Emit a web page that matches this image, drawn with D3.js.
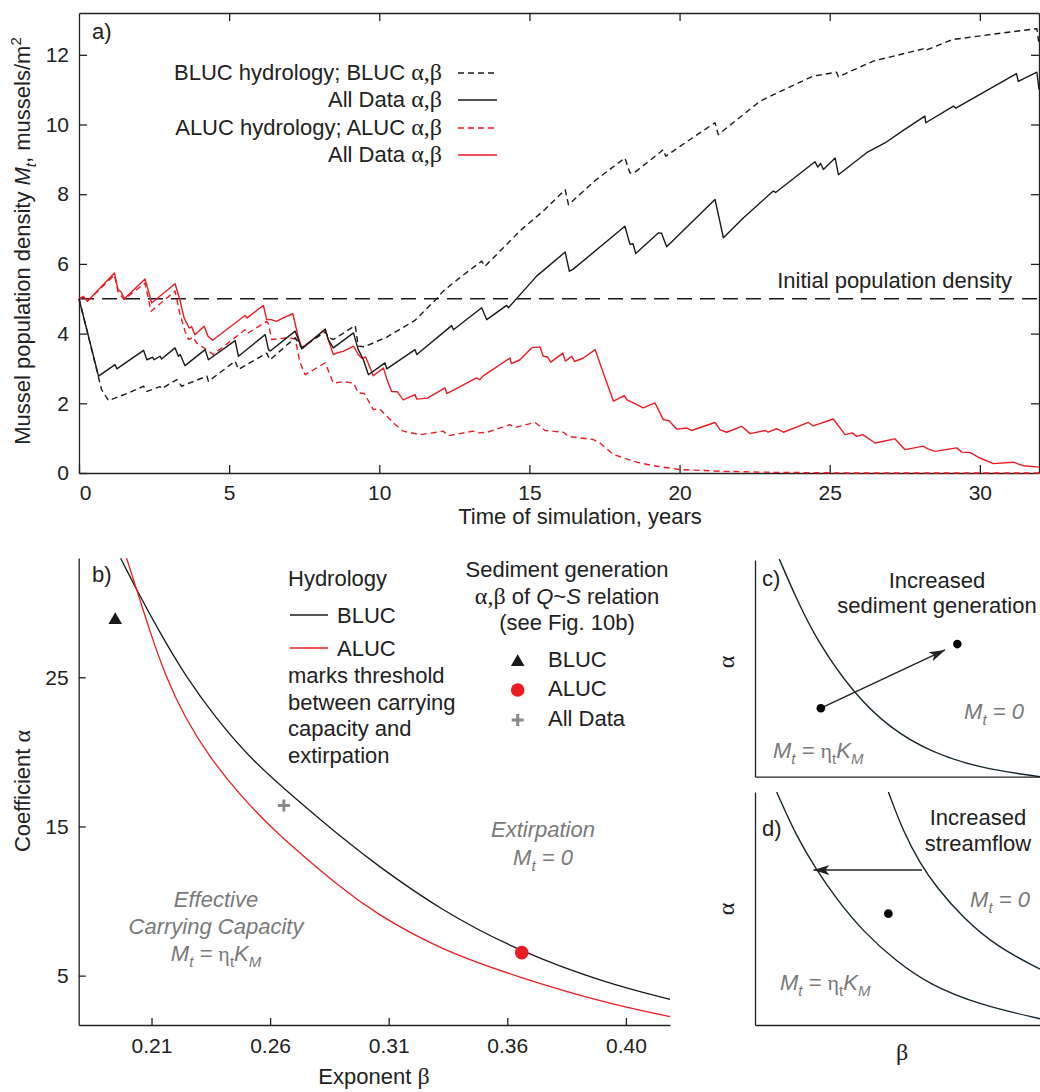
<!DOCTYPE html>
<html>
<head>
<meta charset="utf-8">
<script src="https://cdnjs.cloudflare.com/ajax/libs/d3/7.8.5/d3.min.js"></script>
<style>
    body { margin: 0; background: #fff; }
    svg { font-family: "Liberation Sans", Arial, sans-serif; fill: #222; }
    .greek { font-family: "Liberation Serif", "DejaVu Serif", serif; }
    .axis text { font-size: 21px; fill: #222; font-family: "Liberation Sans", Arial, sans-serif; }
    .axis path, .axis line { stroke: #222; stroke-width: 1.3; }
    .note { fill: #7a7a7a; font-style: italic; }
</style>
</head>
<body>
<div id="vis"></div>
<script>

// ---- panel a: population density over time ----
var timeTicks = [0, 5, 10, 15, 20, 25, 30];
var densityTicks = [0, 2, 4, 6, 8, 10, 12];
var initialDensity = 5;

// BLUC hydrology; BLUC alpha,beta  (black dashed)
var blucBluc = [[0,5.0],[0.26,4.11],[0.62,2.85],[0.75,2.4],[0.98,2.08],[1.6,2.28],[2.15,2.49],[2.26,2.34],
    [2.7,2.48],[2.75,2.42],[3.26,2.68],[3.42,2.49],[4.26,2.78],[4.31,2.63],[5.2,3.21],[5.31,2.97],
    [6.25,3.44],[6.36,3.25],[7.2,3.88],[7.42,3.6],[8.2,4.05],[8.3,3.9],[8.47,3.83],[9.2,4.23],[9.3,3.64],
    [9.5,3.62],[10.25,3.9],[11.19,4.38],[11.91,5.0],[12.13,5.22],[12.75,5.65],[13.41,6.08],[13.52,5.93],
    [14.69,6.95],[15.5,7.55],[16.19,8.13],[16.3,7.7],[17.2,8.4],[18.18,9.04],[18.35,8.61],[18.5,8.62],
    [19.46,9.28],[19.54,9.09],[20.4,9.6],[21.18,10.05],[21.29,9.71],[22.68,10.67],[23.6,11.05],[24.46,11.39],
    [25.23,11.5],[25.29,11.37],[26.45,11.82],[28.12,12.17],[28.17,12.12],[29.1,12.44],[30.78,12.63],
    [31.9,12.75],[31.97,12.3]];

// BLUC hydrology; All Data alpha,beta  (black solid)
var blucAll = [[0,5.0],[0.26,4.11],[0.65,2.78],[1.2,3.11],[1.26,2.99],[2.15,3.52],[2.26,3.25],[2.45,3.32],
    [2.5,3.25],[2.7,3.35],[2.75,3.27],[3.2,3.59],[3.31,3.35],[3.37,3.4],[3.53,3.08],[4.2,3.54],[4.31,3.25],
    [5.2,3.8],[5.31,3.35],[6.2,3.97],[6.31,3.54],[6.37,3.5],[7.2,4.07],[7.42,3.56],[8.2,4.13],[8.3,3.83],
    [8.47,3.59],[9.14,4.02],[9.3,3.54],[9.47,3.25],[9.64,2.82],[10.19,3.16],[10.25,2.99],[11.19,3.54],
    [11.25,3.4],[12.41,4.23],[12.47,4.11],[13.41,4.74],[13.58,4.4],[14.24,4.81],[14.3,4.74],[15.24,5.65],
    [16.19,6.34],[16.33,5.79],[16.46,5.85],[18.18,7.08],[18.35,6.56],[18.45,6.58],[18.54,6.3],[19.29,6.89],
    [19.4,6.88],[19.57,6.49],[21.18,7.85],[21.46,6.75],[22.12,7.32],[23.12,8.09],[23.2,8.05],[24.51,8.93],
    [24.6,8.78],[24.7,8.88],[24.79,8.71],[25.18,9.04],[25.29,8.56],[26.23,9.19],[26.84,9.47],[27.45,9.83],
    [28.17,10.24],[28.2,10.05],[29.12,10.53],[29.2,10.47],[31.22,11.46],[31.28,11.24],[31.9,11.5],[31.97,11.0]];

// ALUC hydrology; ALUC alpha,beta  (red dashed)
var alucAluc = [[0,5.0],[0.15,5.05],[0.28,4.93],[1.18,5.68],[1.3,5.2],[1.5,4.98],[2.2,5.45],[2.4,4.64],
    [3.2,5.22],[3.35,4.6],[3.53,4.07],[3.65,3.83],[3.8,3.9],[3.92,3.73],[4.25,3.54],[4.47,3.4],[5.53,4.11],
    [5.6,4.0],[6.25,4.35],[6.3,4.3],[6.42,3.83],[7.0,3.88],[7.2,3.85],[7.35,3.2],[7.53,2.82],[8.2,3.16],
    [8.47,2.58],[8.8,2.62],[9.14,2.58],[9.3,2.3],[9.5,2.28],[9.8,1.82],[10.0,1.85],[10.25,1.63],[10.53,1.39],
    [10.8,1.2],[11.36,1.1],[12.13,1.2],[12.3,1.07],[13.13,1.2],[13.3,1.15],[13.6,1.17],[14.35,1.39],[14.5,1.3],
    [15.19,1.45],[15.52,1.22],[16.13,1.17],[16.3,1.05],[17.13,0.96],[17.35,0.86],[17.8,0.53],[18.57,0.31],
    [19.13,0.21],[20.0,0.1],[21.35,0.05],[23.0,0.02],[25.8,0.0],[31.97,0.0]];

// ALUC hydrology; All Data alpha,beta  (red solid)
var alucAll = [[0,5.0],[0.15,5.07],[0.28,4.93],[1.18,5.74],[1.3,5.26],[1.4,5.2],[1.51,5.0],[2.2,5.57],
    [2.42,4.88],[3.2,5.43],[3.35,5.0],[3.5,4.45],[3.67,4.16],[3.75,4.2],[3.86,3.97],[4.17,4.21],[4.3,3.92],
    [4.45,3.81],[5.53,4.52],[5.6,4.45],[6.14,4.81],[6.25,4.4],[6.4,4.4],[6.58,4.35],[6.8,4.45],[7.12,4.57],
    [7.31,3.88],[7.42,3.59],[8.2,4.11],[8.35,3.7],[8.47,3.4],[8.6,3.45],[8.8,3.49],[9.14,3.64],[9.3,3.4],
    [9.41,3.3],[9.55,3.32],[9.8,2.79],[10.14,3.01],[10.25,2.7],[10.41,2.34],[10.6,2.33],[10.8,2.1],
    [11.19,2.25],[11.25,2.12],[11.6,2.15],[12.19,2.44],[12.25,2.28],[13.24,2.73],[13.35,2.68],[13.45,2.78],
    [14.35,3.3],[14.4,3.14],[14.69,3.25],[15.07,3.59],[15.35,3.62],[15.46,3.35],[15.6,3.33],[15.71,3.18],
    [16.11,3.44],[16.2,3.21],[16.41,3.35],[16.5,3.2],[16.8,3.3],[17.19,3.54],[17.46,2.87],[17.8,2.06],
    [18.16,2.22],[18.25,2.1],[18.46,2.01],[18.79,1.87],[19.18,2.01],[19.46,1.53],[19.65,1.5],[19.9,1.26],
    [20.24,1.29],[20.4,1.22],[21.18,1.45],[21.35,1.24],[21.57,1.17],[22.07,1.34],[22.35,1.13],[22.85,1.22],
    [22.95,1.17],[23.23,1.27],[23.46,1.17],[24.29,1.45],[24.45,1.35],[25.12,1.55],[25.51,1.1],[25.75,1.15],
    [25.9,1.05],[26.1,1.1],[26.51,0.86],[27.17,0.98],[27.51,0.67],[28.12,0.77],[28.25,0.7],[28.51,0.62],
    [29.23,0.72],[29.4,0.6],[29.67,0.59],[30.0,0.43],[30.45,0.27],[31.11,0.31],[31.45,0.21],[31.97,0.17]];

// ---- panel b: threshold curves in (beta, alpha) ----
var betaTicks = [0.21, 0.26, 0.31, 0.36, 0.41];
var betaTickLabels = ['0.21', '0.26', '0.31', '0.36', '0.40'];
var alphaTicks = [5, 15, 25];
var thresholdBluc = [[0.1970,32.98],[0.2038,30.85],[0.2136,27.97],[0.2248,24.97],[0.2368,22.34],
    [0.2515,19.59],[0.2670,17.38],[0.2789,15.77],[0.2916,14.09],[0.3035,12.59],[0.3317,9.4],
    [0.3661,6.54],[0.4019,4.49],[0.4286,3.41]];
var thresholdAluc = [[0.1995,32.98],[0.2038,30.85],[0.2094,28.04],[0.2157,25.16],[0.2241,22.27],
    [0.2347,19.59],[0.2473,17.11],[0.2600,14.99],[0.2726,13.2],[0.2895,10.94],[0.3035,9.27],
    [0.3317,6.72],[0.3661,4.82],[0.4019,3.14],[0.4286,2.25]];
var pointBluc = [0.1947, 28.84];
var pointAluc = [0.3661, 6.54];
var pointAll = [0.2658, 16.4];

// ---- panels c, d: schematic (unitless 0..1) ----
var schemeC = [[0.085,1.005],[0.146,0.819],[0.216,0.631],[0.345,0.385],[0.474,0.223],
    [0.614,0.115],[0.789,0.039],[1.0,0.0]];
var schemeCStart = [0.231, 0.316];
var schemeCEnd = [0.71, 0.612];
var schemeCTip = [0.667, 0.585];
var schemeDLow = [[0.076,1.0],[0.146,0.808],[0.216,0.665],[0.287,0.539],[0.38,0.40],[0.497,0.272],
    [0.614,0.172],[0.789,0.086],[1.0,0.027]];
var schemeDHigh = [[0.468,1.0],[0.52,0.83],[0.579,0.694],[0.637,0.591],[0.731,0.458],[0.848,0.336],[1.0,0.24]];
var schemeDPoint = [0.468, 0.478];
var schemeDArrow = [[0.586, 0.665], [0.205, 0.665]];

var red = '#ed1c24';
var black = '#1a1a1a';
var navy = '#15262e';

var svg = d3.select('#vis')
            .append('svg')
            .attr('width', 1040)
            .attr('height', 1092);

// mixed text helper: parts of {t, i, n, g, sub, sup, size}
function rich(sel, parts) {
    var shift = 0;
    parts.forEach(function(p) {
        var target = p.sub ? 6 : (p.sup ? -9 : 0);
        var ts = sel.append('tspan').text(p.t).attr('dy', target - shift);
        shift = target;
        if (p.i) ts.style('font-style', 'italic');
        if (p.n) ts.style('font-style', 'normal');
        if (p.g) ts.attr('class', 'greek');
        if (p.sub || p.sup) ts.style('font-size', '68%');
        if (p.size) ts.style('font-size', p.size + 'px');
    });
    return sel;
}

function label(x, y, size, anchor) {
    return svg.append('text')
        .attr('x', x).attr('y', y)
        .style('font-size', size + 'px')
        .attr('text-anchor', anchor || 'start');
}

var mEqEta = [{t:'M', i:true}, {t:'t', i:true, sub:true}, {t:' = '}, {t:'\u03b7', g:true, n:true},
              {t:'t', sub:true, n:true}, {t:'K', i:true}, {t:'M', i:true, sub:true}];
var mEqZero = [{t:'M', i:true}, {t:'t', i:true, sub:true}, {t:' = 0'}];

// ================= panel a =================
var xA = d3.scaleLinear().domain([0, 31.97]).range([79, 1039]);
var yA = d3.scaleLinear().domain([0, 13.2]).range([473, 13]);

svg.append('g').attr('class', 'axis')
    .attr('transform', 'translate(79,0)')
    .call(d3.axisLeft(yA).tickValues(densityTicks).tickSizeInner(-8).tickSizeOuter(0).tickPadding(10));
var bottomA = svg.append('g').attr('class', 'axis')
    .attr('transform', 'translate(0,473)')
    .call(d3.axisBottom(xA).tickValues(timeTicks).tickSizeInner(-8).tickSizeOuter(0).tickPadding(12));
bottomA.selectAll('.tick text').attr('dx', function(d) { return d === 0 ? 6 : 0; });
svg.append('g').attr('class', 'axis')
    .attr('transform', 'translate(0,13)')
    .call(d3.axisTop(xA).tickValues(timeTicks.slice(1)).tickSizeInner(-8).tickSizeOuter(0).tickFormat(''));
svg.append('g').attr('class', 'axis')
    .attr('transform', 'translate(1039,0)')
    .call(d3.axisRight(yA).tickValues(densityTicks.slice(1)).tickSizeInner(-8).tickSizeOuter(0).tickFormat(''));

// initial population density
svg.append('line')
    .attr('x1', xA(0)).attr('x2', xA(31.97))
    .attr('y1', yA(initialDensity)).attr('y2', yA(initialDensity))
    .attr('stroke', black).attr('stroke-width', 1.3).attr('stroke-dasharray', '15,8');
label(1012, 288, 22, 'end').text('Initial population density');

var lineA = d3.line().x(function(d) { return xA(d[0]); }).y(function(d) { return yA(d[1]); });
var seriesA = [
    {data: alucAluc, color: red, dash: '6,4'},
    {data: alucAll, color: red, dash: null},
    {data: blucBluc, color: black, dash: '6,4'},
    {data: blucAll, color: black, dash: null}
];
seriesA.forEach(function(s) {
    svg.append('path')
        .datum(s.data)
        .attr('d', lineA)
        .attr('fill', 'none')
        .attr('stroke', s.color)
        .attr('stroke-width', 1.4)
        .attr('stroke-linejoin', 'round')
        .attr('stroke-dasharray', s.dash);
});

// legend a
var legendA = [
    {name: 'BLUC hydrology; BLUC ', color: black, dash: '6,4', y: 73},
    {name: 'All Data ', color: black, dash: null, y: 100},
    {name: 'ALUC hydrology; ALUC ', color: red, dash: '6,4', y: 128},
    {name: 'All Data ', color: red, dash: null, y: 155}
];
legendA.forEach(function(l) {
    rich(label(442, l.y + 7, 22, 'end'), [{t: l.name}, {t: '\u03b1,\u03b2', g: true, size: 24}]);
    svg.append('line')
        .attr('x1', 458).attr('x2', 497).attr('y1', l.y).attr('y2', l.y)
        .attr('stroke', l.color).attr('stroke-width', 1.4).attr('stroke-dasharray', l.dash);
});

label(92, 39, 22).text('a)');
rich(svg.append('text')
        .attr('transform', 'translate(30,241) rotate(-90)')
        .attr('text-anchor', 'middle')
        .style('font-size', '22px'),
    [{t: 'Mussel population density '}, {t: 'M', i: true}, {t: 't', i: true, sub: true},
     {t: ', mussels/m'}, {t: '2', sup: true}]);
label(580, 524, 22, 'middle').text('Time of simulation, years');

// ================= panel b =================
var xB = d3.scaleLinear().domain([0.1793, 0.4286]).range([78.7, 670]);
var yB = d3.scaleLinear().domain([1.69, 33]).range([1025, 558]);

svg.append('g').attr('class', 'axis')
    .attr('transform', 'translate(78.7,0)')
    .call(d3.axisLeft(yB).tickValues(alphaTicks).tickSizeInner(-7).tickSizeOuter(0).tickPadding(10));
svg.append('g').attr('class', 'axis')
    .attr('transform', 'translate(0,1025)')
    .call(d3.axisBottom(xB).tickValues(betaTicks).tickSizeInner(-7).tickSizeOuter(0).tickPadding(13)
        .tickFormat(function(d, i) { return betaTickLabels[i]; }));

var lineB = d3.line().curve(d3.curveBasis)
    .x(function(d) { return xB(d[0]); }).y(function(d) { return yB(d[1]); });
svg.append('path').datum(thresholdBluc).attr('d', lineB)
    .attr('fill', 'none').attr('stroke', black).attr('stroke-width', 1.3);
svg.append('path').datum(thresholdAluc).attr('d', lineB)
    .attr('fill', 'none').attr('stroke', red).attr('stroke-width', 1.3);

function triangle(x, y) {
    svg.append('path').attr('d', d3.symbol(d3.symbolTriangle, 80)())
        .attr('transform', 'translate(' + x + ',' + y + ')').attr('fill', black);
}
function dot(x, y) {
    svg.append('circle').attr('cx', x).attr('cy', y).attr('r', 6.8).attr('fill', red);
}
function plus(x, y) {
    svg.append('path').attr('d', 'M-6,0H6M0,-6V6')
        .attr('transform', 'translate(' + x + ',' + y + ')')
        .attr('stroke', '#8a8a8a').attr('stroke-width', 3).attr('fill', 'none');
}
triangle(xB(pointBluc[0]), yB(pointBluc[1]));
dot(xB(pointAluc[0]), yB(pointAluc[1]));
plus(xB(pointAll[0]), yB(pointAll[1]));

label(92, 582, 22).text('b)');
label(288, 586, 22).text('Hydrology');
svg.append('line').attr('x1', 290).attr('x2', 328).attr('y1', 615).attr('y2', 615)
    .attr('stroke', black).attr('stroke-width', 1.3);
label(337, 623, 22).text('BLUC');
svg.append('line').attr('x1', 290).attr('x2', 328).attr('y1', 648).attr('y2', 648)
    .attr('stroke', red).attr('stroke-width', 1.3);
label(337, 656, 22).text('ALUC');
['marks threshold', 'between carrying', 'capacity and', 'extirpation'].forEach(function(t, i) {
    label(288, 683 + i * 26.7, 22).text(t);
});

label(567, 577, 22, 'middle').text('Sediment generation');
rich(label(567, 604, 22, 'middle'),
    [{t: '\u03b1,\u03b2', g: true, size: 24}, {t: ' of '}, {t: 'Q', i: true}, {t: '~'}, {t: 'S', i: true}, {t: ' relation'}]);
label(567, 630, 22, 'middle').text('(see Fig. 10b)');
triangle(517.7, 662);
label(548, 667, 22).text('BLUC');
dot(517.7, 690);
label(548, 696, 22).text('ALUC');
plus(517.7, 720);
label(548, 726, 22).text('All Data');

label(543, 837, 22, 'middle').attr('class', 'note').text('Extirpation');
rich(label(543, 865, 22, 'middle').attr('class', 'note'), mEqZero);
label(216, 907, 22, 'middle').attr('class', 'note').text('Effective');
label(216, 934, 22, 'middle').attr('class', 'note').text('Carrying Capacity');
rich(label(216, 961, 22, 'middle').attr('class', 'note'), mEqEta);

rich(svg.append('text')
        .attr('transform', 'translate(30,791) rotate(-90)')
        .attr('text-anchor', 'middle')
        .style('font-size', '22px'),
    [{t: 'Coefficient '}, {t: '\u03b1', g: true, size: 24}]);
rich(label(374, 1084, 22, 'middle'), [{t: 'Exponent '}, {t: '\u03b2', g: true, size: 24}]);

// ================= panels c, d =================
var xC = d3.scaleLinear().domain([0, 1]).range([755, 1040]);
var yC = d3.scaleLinear().domain([0, 1]).range([776.7, 560]);
var yD = d3.scaleLinear().domain([0, 1]).range([1025, 792]);

svg.append('defs').append('marker')
    .attr('id', 'arrow')
    .attr('markerUnits', 'userSpaceOnUse')
    .attr('markerWidth', 18).attr('markerHeight', 12)
    .attr('refX', 16).attr('refY', 6)
    .attr('orient', 'auto')
    .append('path').attr('d', 'M0,1 L16,6 L0,11 L4,6 Z').attr('fill', '#222');

[yC, yD].forEach(function(ys) {
    svg.append('g').attr('class', 'axis')
        .attr('transform', 'translate(755,0)')
        .call(d3.axisLeft(ys).tickValues([]).tickSizeOuter(0));
    svg.append('g').attr('class', 'axis')
        .attr('transform', 'translate(0,' + ys(0) + ')')
        .call(d3.axisBottom(xC).tickValues([]).tickSizeOuter(0));
});

var lineC = d3.line().curve(d3.curveBasis)
    .x(function(d) { return xC(d[0]); }).y(function(d) { return yC(d[1]); });
var lineD = d3.line().curve(d3.curveBasis)
    .x(function(d) { return xC(d[0]); }).y(function(d) { return yD(d[1]); });

svg.append('path').datum(schemeC).attr('d', lineC)
    .attr('fill', 'none').attr('stroke', navy).attr('stroke-width', 1.4);
svg.append('line')
    .attr('x1', xC(schemeCStart[0])).attr('y1', yC(schemeCStart[1]))
    .attr('x2', xC(schemeCTip[0])).attr('y2', yC(schemeCTip[1]))
    .attr('stroke', '#222').attr('stroke-width', 1.4).attr('marker-end', 'url(#arrow)');
svg.append('circle').attr('cx', xC(schemeCStart[0])).attr('cy', yC(schemeCStart[1])).attr('r', 4.3).attr('fill', '#000');
svg.append('circle').attr('cx', xC(schemeCEnd[0])).attr('cy', yC(schemeCEnd[1])).attr('r', 4.3).attr('fill', '#000');

svg.append('path').datum(schemeDLow).attr('d', lineD)
    .attr('fill', 'none').attr('stroke', navy).attr('stroke-width', 1.4);
svg.append('path').datum(schemeDHigh).attr('d', lineD)
    .attr('fill', 'none').attr('stroke', navy).attr('stroke-width', 1.4);
svg.append('line')
    .attr('x1', xC(schemeDArrow[0][0])).attr('y1', yD(schemeDArrow[0][1]))
    .attr('x2', xC(schemeDArrow[1][0])).attr('y2', yD(schemeDArrow[1][1]))
    .attr('stroke', '#222').attr('stroke-width', 1.4).attr('marker-end', 'url(#arrow)');
svg.append('circle').attr('cx', xC(schemeDPoint[0])).attr('cy', yD(schemeDPoint[1])).attr('r', 4.3).attr('fill', '#000');

label(762, 586, 22).text('c)');
label(937, 588, 22, 'middle').text('Increased');
label(937, 613, 22, 'middle').text('sediment generation');
rich(label(994, 719, 22, 'middle').attr('class', 'note'), mEqZero);
rich(label(773, 758, 22).attr('class', 'note'), mEqEta);

label(762, 836, 22).text('d)');
label(978, 825, 22, 'middle').text('Increased');
label(978, 851, 22, 'middle').text('streamflow');
rich(label(1000, 907, 22, 'middle').attr('class', 'note'), mEqZero);
rich(label(780, 990, 22).attr('class', 'note'), mEqEta);
label(902, 1060, 24, 'middle').attr('class', 'greek').text('\u03b2');

label(0, 0, 24, 'middle').attr('class', 'greek')
    .attr('transform', 'translate(734,662) rotate(-90)').text('\u03b1');
label(0, 0, 24, 'middle').attr('class', 'greek')
    .attr('transform', 'translate(734,909) rotate(-90)').text('\u03b1');

</script>
</body>
</html>
